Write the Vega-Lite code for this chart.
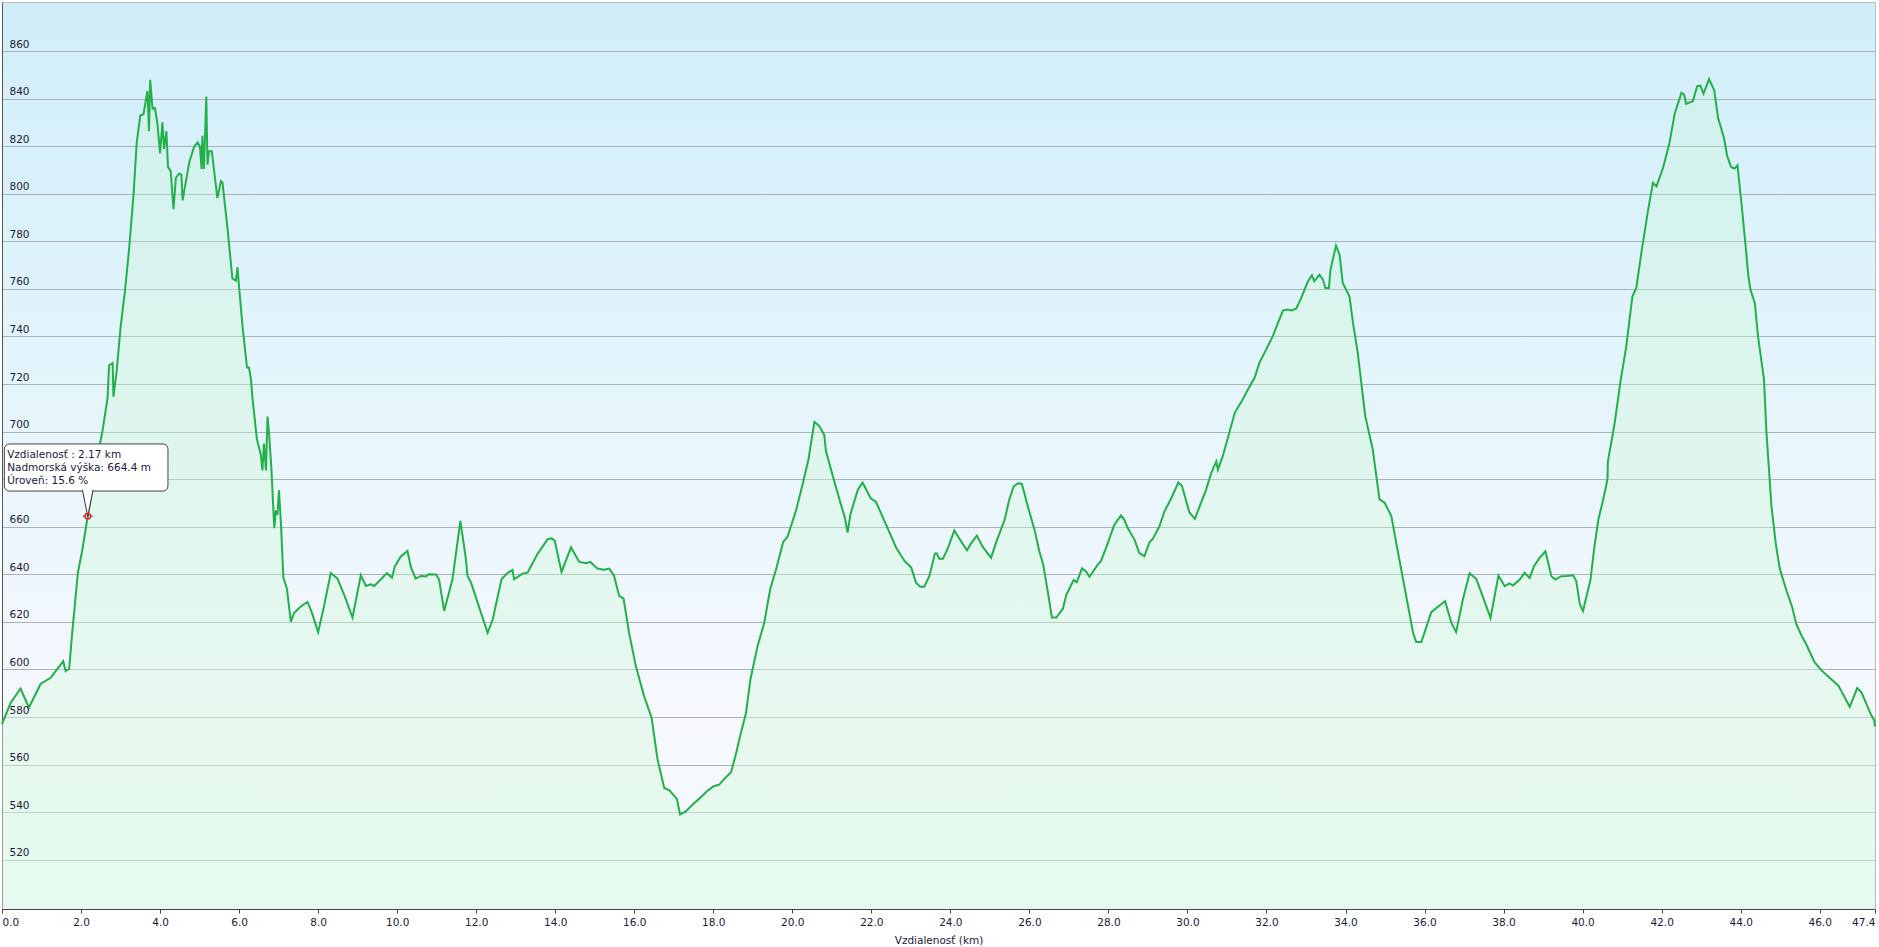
{
  "$schema": "https://vega.github.io/schema/vega-lite/v6.json",
  "width": 1873,
  "height": 907,
  "autosize": {"type": "none"},
  "padding": {"left": 2, "top": 2, "right": 4, "bottom": 38},
  "background": "#ffffff",
  "view": {
    "stroke": "#bbbbbb",
    "fill": {"gradient": "linear", "x1": 0, "y1": 0, "x2": 0, "y2": 1,
      "stops": [
        {"offset": 0, "color": "#d0eefa"},
        {"offset": 0.45, "color": "#e6f5fc"},
        {"offset": 0.78, "color": "#f6f8fe"},
        {"offset": 1, "color": "#f4f9fd"}
      ]}
  },
  "config": {"font": "DejaVu Sans"},
  "data": {"values": [
    {"km": 0.0, "elev": 577}, {"km": 0.22, "elev": 586}, {"km": 0.47, "elev": 592}, {"km": 0.68, "elev": 584},
    {"km": 0.98, "elev": 594}, {"km": 1.23, "elev": 596.5}, {"km": 1.55, "elev": 603.5}, {"km": 1.61, "elev": 599.3},
    {"km": 1.70, "elev": 600.3}, {"km": 1.78, "elev": 616}, {"km": 1.92, "elev": 640.6}, {"km": 2.03, "elev": 650},
    {"km": 2.17, "elev": 664.4, "sel": true}, {"km": 2.29, "elev": 676}, {"km": 2.42, "elev": 690}, {"km": 2.54, "elev": 700},
    {"km": 2.67, "elev": 713.8}, {"km": 2.71, "elev": 727.8}, {"km": 2.80, "elev": 728.8}, {"km": 2.82, "elev": 714.7},
    {"km": 2.90, "elev": 725}, {"km": 3.00, "elev": 743.8}, {"km": 3.11, "elev": 758.8}, {"km": 3.22, "elev": 777.5},
    {"km": 3.33, "elev": 800}, {"km": 3.41, "elev": 821.6}, {"km": 3.50, "elev": 832.9}, {"km": 3.58, "elev": 833.4},
    {"km": 3.68, "elev": 843.2}, {"km": 3.72, "elev": 826.3}, {"km": 3.75, "elev": 847.9}, {"km": 3.81, "elev": 835.7},
    {"km": 3.87, "elev": 836}, {"km": 3.93, "elev": 830}, {"km": 4.00, "elev": 817}, {"km": 4.06, "elev": 830},
    {"km": 4.10, "elev": 818.8}, {"km": 4.16, "elev": 826.3}, {"km": 4.20, "elev": 811.3}, {"km": 4.27, "elev": 809.4},
    {"km": 4.34, "elev": 793.5}, {"km": 4.40, "elev": 806.6}, {"km": 4.48, "elev": 808.5}, {"km": 4.54, "elev": 808},
    {"km": 4.57, "elev": 797.2}, {"km": 4.63, "elev": 802.9}, {"km": 4.74, "elev": 813.2}, {"km": 4.86, "elev": 819.7},
    {"km": 4.95, "elev": 821.6}, {"km": 5.01, "elev": 819.7}, {"km": 5.05, "elev": 810.4}, {"km": 5.07, "elev": 824.4},
    {"km": 5.11, "elev": 810.4}, {"km": 5.17, "elev": 840.9}, {"km": 5.20, "elev": 812.2}, {"km": 5.24, "elev": 817.9},
    {"km": 5.31, "elev": 817.9}, {"km": 5.45, "elev": 798.2}, {"km": 5.54, "elev": 805.3}, {"km": 5.58, "elev": 804.7},
    {"km": 5.71, "elev": 785}, {"km": 5.83, "elev": 764.4}, {"km": 5.92, "elev": 763.5}, {"km": 5.96, "elev": 769.1},
    {"km": 6.00, "elev": 760.7}, {"km": 6.09, "elev": 743.8}, {"km": 6.20, "elev": 726.9}, {"km": 6.25, "elev": 726.9},
    {"km": 6.30, "elev": 722.2}, {"km": 6.34, "elev": 713.8}, {"km": 6.45, "elev": 696.9}, {"km": 6.55, "elev": 690.3},
    {"km": 6.59, "elev": 683.7}, {"km": 6.63, "elev": 695}, {"km": 6.68, "elev": 683.7}, {"km": 6.72, "elev": 706.3},
    {"km": 6.76, "elev": 698.8}, {"km": 6.82, "elev": 683.7}, {"km": 6.89, "elev": 659.4}, {"km": 6.93, "elev": 666.9},
    {"km": 6.97, "elev": 665}, {"km": 7.01, "elev": 675.3}, {"km": 7.06, "elev": 661.2}, {"km": 7.12, "elev": 638.7},
    {"km": 7.21, "elev": 634}, {"km": 7.31, "elev": 620}, {"km": 7.39, "elev": 623.7}, {"km": 7.56, "elev": 626.5},
    {"km": 7.73, "elev": 628.4}, {"km": 7.84, "elev": 624}, {"km": 8.00, "elev": 615.7}, {"km": 8.15, "elev": 626.7},
    {"km": 8.32, "elev": 640.5}, {"km": 8.49, "elev": 638.2}, {"km": 8.67, "elev": 630.9}, {"km": 8.87, "elev": 621.8},
    {"km": 9.08, "elev": 639.6}, {"km": 9.21, "elev": 635.1}, {"km": 9.33, "elev": 635.8}, {"km": 9.42, "elev": 635.1},
    {"km": 9.59, "elev": 637.9}, {"km": 9.74, "elev": 640.5}, {"km": 9.87, "elev": 638.6}, {"km": 9.94, "elev": 643.3},
    {"km": 10.09, "elev": 647.4}, {"km": 10.26, "elev": 649.9}, {"km": 10.35, "elev": 642.9}, {"km": 10.47, "elev": 638.2},
    {"km": 10.60, "elev": 639.3}, {"km": 10.73, "elev": 639.1}, {"km": 10.80, "elev": 640}, {"km": 10.98, "elev": 639.9},
    {"km": 11.06, "elev": 637.9}, {"km": 11.19, "elev": 624.6}, {"km": 11.40, "elev": 637.9}, {"km": 11.60, "elev": 662.5},
    {"km": 11.74, "elev": 646.4}, {"km": 11.78, "elev": 639.3}, {"km": 11.87, "elev": 636.5}, {"km": 12.12, "elev": 623.9},
    {"km": 12.29, "elev": 615.4}, {"km": 12.42, "elev": 621.1}, {"km": 12.64, "elev": 637.9}, {"km": 12.79, "elev": 640.5},
    {"km": 12.92, "elev": 641.9}, {"km": 12.96, "elev": 637.9}, {"km": 13.17, "elev": 640.3}, {"km": 13.30, "elev": 640.7},
    {"km": 13.55, "elev": 648.5}, {"km": 13.81, "elev": 654.8}, {"km": 13.91, "elev": 655.1}, {"km": 13.99, "elev": 654.1},
    {"km": 14.16, "elev": 641}, {"km": 14.40, "elev": 651.3}, {"km": 14.61, "elev": 645.2}, {"km": 14.78, "elev": 644.7},
    {"km": 14.89, "elev": 645.2}, {"km": 15.07, "elev": 642.4}, {"km": 15.23, "elev": 641.9}, {"km": 15.37, "elev": 642.4},
    {"km": 15.49, "elev": 639.3}, {"km": 15.62, "elev": 630.9}, {"km": 15.73, "elev": 629.8}, {"km": 15.87, "elev": 615.4},
    {"km": 16.04, "elev": 601.4}, {"km": 16.25, "elev": 588.8}, {"km": 16.44, "elev": 579.7}, {"km": 16.59, "elev": 562.1},
    {"km": 16.76, "elev": 550.2}, {"km": 16.89, "elev": 549.2}, {"km": 17.08, "elev": 545.6}, {"km": 17.16, "elev": 539},
    {"km": 17.31, "elev": 540.4}, {"km": 17.48, "elev": 543.2}, {"km": 17.69, "elev": 546.4}, {"km": 17.84, "elev": 548.8},
    {"km": 18.01, "elev": 550.9}, {"km": 18.15, "elev": 551.6}, {"km": 18.28, "elev": 554}, {"km": 18.45, "elev": 556.8},
    {"km": 18.57, "elev": 564.2}, {"km": 18.68, "elev": 572}, {"km": 18.83, "elev": 581.8}, {"km": 18.94, "elev": 595.8},
    {"km": 19.12, "elev": 609.8}, {"km": 19.29, "elev": 619.6}, {"km": 19.44, "elev": 633.7}, {"km": 19.59, "elev": 642.1},
    {"km": 19.77, "elev": 653.6}, {"km": 19.88, "elev": 655.8}, {"km": 20.09, "elev": 666.6}, {"km": 20.26, "elev": 677.8},
    {"km": 20.41, "elev": 688.4}, {"km": 20.56, "elev": 704.1}, {"km": 20.68, "elev": 702.4}, {"km": 20.81, "elev": 698.5},
    {"km": 20.85, "elev": 691.9}, {"km": 21.06, "elev": 679.2}, {"km": 21.23, "elev": 669.4}, {"km": 21.33, "elev": 663.8},
    {"km": 21.40, "elev": 657.5}, {"km": 21.47, "elev": 665.2}, {"km": 21.66, "elev": 675.7}, {"km": 21.78, "elev": 678.5},
    {"km": 21.99, "elev": 671.8}, {"km": 22.12, "elev": 670.4}, {"km": 22.37, "elev": 661}, {"km": 22.63, "elev": 651.2},
    {"km": 22.84, "elev": 645.6}, {"km": 23.01, "elev": 642.8}, {"km": 23.13, "elev": 636.5}, {"km": 23.24, "elev": 634.8},
    {"km": 23.34, "elev": 634.8}, {"km": 23.47, "elev": 639.3}, {"km": 23.61, "elev": 648.7}, {"km": 23.66, "elev": 648.7},
    {"km": 23.72, "elev": 646.5}, {"km": 23.81, "elev": 646.5}, {"km": 23.93, "elev": 650.7}, {"km": 24.10, "elev": 658.4},
    {"km": 24.27, "elev": 653.9}, {"km": 24.42, "elev": 650.1}, {"km": 24.52, "elev": 652.9}, {"km": 24.67, "elev": 656.3},
    {"km": 24.82, "elev": 651.5}, {"km": 25.03, "elev": 646.9}, {"km": 25.16, "elev": 653.5}, {"km": 25.37, "elev": 662.7},
    {"km": 25.49, "elev": 671.3}, {"km": 25.60, "elev": 676.9}, {"km": 25.71, "elev": 678.3}, {"km": 25.81, "elev": 678},
    {"km": 25.96, "elev": 668.6}, {"km": 26.14, "elev": 658.1}, {"km": 26.25, "elev": 649.7}, {"km": 26.35, "elev": 644.1},
    {"km": 26.47, "elev": 632.3}, {"km": 26.57, "elev": 621.8}, {"km": 26.68, "elev": 621.8}, {"km": 26.85, "elev": 625.6},
    {"km": 26.93, "elev": 631.2}, {"km": 27.12, "elev": 637.6}, {"km": 27.20, "elev": 636.7}, {"km": 27.33, "elev": 642.5},
    {"km": 27.43, "elev": 641.3}, {"km": 27.52, "elev": 639}, {"km": 27.73, "elev": 644.1}, {"km": 27.81, "elev": 645.5},
    {"km": 27.94, "elev": 651.1}, {"km": 28.15, "elev": 660.9}, {"km": 28.32, "elev": 664.8}, {"km": 28.40, "elev": 663},
    {"km": 28.49, "elev": 659.5}, {"km": 28.66, "elev": 654.6}, {"km": 28.78, "elev": 649}, {"km": 28.91, "elev": 647.6},
    {"km": 29.04, "elev": 653.5}, {"km": 29.12, "elev": 654.9}, {"km": 29.29, "elev": 660.2}, {"km": 29.42, "elev": 666.5},
    {"km": 29.59, "elev": 672}, {"km": 29.77, "elev": 678.6}, {"km": 29.86, "elev": 677.2}, {"km": 30.05, "elev": 666},
    {"km": 30.19, "elev": 663.3}, {"km": 30.26, "elev": 666.5}, {"km": 30.47, "elev": 675.5}, {"km": 30.60, "elev": 682.5},
    {"km": 30.68, "elev": 685.6}, {"km": 30.73, "elev": 687.4}, {"km": 30.77, "elev": 684}, {"km": 30.90, "elev": 690},
    {"km": 31.05, "elev": 699}, {"km": 31.20, "elev": 708}, {"km": 31.36, "elev": 712.4}, {"km": 31.53, "elev": 717.7},
    {"km": 31.70, "elev": 722.6}, {"km": 31.82, "elev": 728.9}, {"km": 31.95, "elev": 733.1}, {"km": 32.16, "elev": 740.1},
    {"km": 32.29, "elev": 745.7}, {"km": 32.42, "elev": 751}, {"km": 32.54, "elev": 751.3}, {"km": 32.63, "elev": 750.9},
    {"km": 32.75, "elev": 751.7}, {"km": 32.88, "elev": 756.2}, {"km": 33.05, "elev": 763.2}, {"km": 33.15, "elev": 765.7},
    {"km": 33.21, "elev": 763.2}, {"km": 33.34, "elev": 766}, {"km": 33.43, "elev": 763.9}, {"km": 33.49, "elev": 760.4},
    {"km": 33.58, "elev": 760.4}, {"km": 33.62, "elev": 768.1}, {"km": 33.76, "elev": 778.2}, {"km": 33.85, "elev": 774.4},
    {"km": 33.93, "elev": 762.5}, {"km": 34.10, "elev": 756.9}, {"km": 34.19, "elev": 745.7}, {"km": 34.31, "elev": 733.1},
    {"km": 34.50, "elev": 706.5}, {"km": 34.69, "elev": 692.5}, {"km": 34.86, "elev": 671.5}, {"km": 34.99, "elev": 670.1},
    {"km": 35.16, "elev": 664.5}, {"km": 35.30, "elev": 651.8}, {"km": 35.49, "elev": 635}, {"km": 35.71, "elev": 615.4},
    {"km": 35.79, "elev": 611.5}, {"km": 35.92, "elev": 611.5}, {"km": 36.17, "elev": 624.1}, {"km": 36.38, "elev": 626.9},
    {"km": 36.52, "elev": 628.7}, {"km": 36.68, "elev": 619.6}, {"km": 36.80, "elev": 615.7}, {"km": 36.97, "elev": 629.4},
    {"km": 37.14, "elev": 640.4}, {"km": 37.31, "elev": 638.1}, {"km": 37.44, "elev": 632.2}, {"km": 37.67, "elev": 621.7},
    {"km": 37.87, "elev": 639.5}, {"km": 38.03, "elev": 635}, {"km": 38.15, "elev": 636.2}, {"km": 38.24, "elev": 635.3},
    {"km": 38.41, "elev": 637.8}, {"km": 38.53, "elev": 640.6}, {"km": 38.66, "elev": 638.5}, {"km": 38.77, "elev": 643.4},
    {"km": 38.91, "elev": 646.9}, {"km": 39.06, "elev": 649.7}, {"km": 39.21, "elev": 639.2}, {"km": 39.31, "elev": 637.8},
    {"km": 39.46, "elev": 639.2}, {"km": 39.59, "elev": 639.3}, {"km": 39.76, "elev": 639.6}, {"km": 39.84, "elev": 637.2},
    {"km": 39.93, "elev": 627.4}, {"km": 40.01, "elev": 624.6}, {"km": 40.20, "elev": 637.7}, {"km": 40.30, "elev": 651.8},
    {"km": 40.40, "elev": 663.1}, {"km": 40.51, "elev": 670.6}, {"km": 40.63, "elev": 679.9}, {"km": 40.64, "elev": 687.4},
    {"km": 40.81, "elev": 703.4}, {"km": 40.96, "elev": 721.2}, {"km": 41.10, "elev": 735.2}, {"km": 41.26, "elev": 756.8},
    {"km": 41.36, "elev": 760.5}, {"km": 41.49, "elev": 775.5}, {"km": 41.65, "elev": 792.4}, {"km": 41.78, "elev": 804.6},
    {"km": 41.87, "elev": 803.1}, {"km": 42.04, "elev": 811.1}, {"km": 42.20, "elev": 821.4}, {"km": 42.33, "elev": 833.6},
    {"km": 42.50, "elev": 842.4}, {"km": 42.57, "elev": 841.7}, {"km": 42.62, "elev": 837.8}, {"km": 42.79, "elev": 838.9},
    {"km": 42.90, "elev": 845.2}, {"km": 42.98, "elev": 845.4}, {"km": 43.06, "elev": 842.1}, {"km": 43.20, "elev": 848.2},
    {"km": 43.33, "elev": 843.6}, {"km": 43.43, "elev": 831.8}, {"km": 43.58, "elev": 823.3}, {"km": 43.66, "elev": 815.8},
    {"km": 43.76, "elev": 811.1}, {"km": 43.85, "elev": 810.6}, {"km": 43.92, "elev": 811.9}, {"km": 44.02, "elev": 796.1},
    {"km": 44.14, "elev": 775.5}, {"km": 44.19, "elev": 766.1}, {"km": 44.25, "elev": 759.6}, {"km": 44.36, "elev": 754},
    {"km": 44.44, "elev": 739.9}, {"km": 44.59, "elev": 722.1}, {"km": 44.65, "elev": 700.5}, {"km": 44.78, "elev": 668.7},
    {"km": 44.89, "elev": 652.7}, {"km": 44.99, "elev": 642.4}, {"km": 45.16, "elev": 633.1}, {"km": 45.30, "elev": 626.5},
    {"km": 45.41, "elev": 619}, {"km": 45.54, "elev": 614.3}, {"km": 45.66, "elev": 610.6}, {"km": 45.87, "elev": 603.1},
    {"km": 46.04, "elev": 599.7}, {"km": 46.25, "elev": 596.5}, {"km": 46.47, "elev": 593.3}, {"km": 46.76, "elev": 584.3},
    {"km": 46.95, "elev": 592.2}, {"km": 47.06, "elev": 590.3}, {"km": 47.31, "elev": 580.6}, {"km": 47.38, "elev": 578.7},
    {"km": 47.40, "elev": 576}
  ]},
  "encoding": {
    "x": {
      "field": "km", "type": "quantitative",
      "scale": {"domain": [0, 47.4], "nice": false, "zero": false},
      "axis": {
        "values": [0, 2, 4, 6, 8, 10, 12, 14, 16, 18, 20, 22, 24, 26, 28, 30, 32, 34, 36, 38, 40, 42, 44, 46, 47.4],
        "format": ".1f", "labelFlush": true, "grid": false,
        "domainColor": "#444444", "tickColor": "#444444", "tickSize": 4,
        "labelFont": "DejaVu Sans", "labelFontSize": 10.5, "labelColor": "#1a1a3a", "labelPadding": 4,
        "title": "Vzdialenosť (km)", "titleFont": "DejaVu Sans", "titleFontSize": 10.5,
        "titleFontWeight": "normal", "titleColor": "#1a1a3a", "titlePadding": 8
      }
    },
    "y": {
      "field": "elev", "type": "quantitative",
      "scale": {"domain": [499.3, 880.6], "nice": false, "zero": false},
      "axis": {
        "orient": "left",
        "values": [520, 540, 560, 580, 600, 620, 640, 660, 680, 700, 720, 740, 760, 780, 800, 820, 840, 860],
        "grid": true, "gridColor": "#a9b3b9", "gridWidth": 1,
        "ticks": false, "labels": false, "domain": true, "domainColor": "#555555",
        "title": null, "zindex": 0
      }
    }
  },
  "layer": [
    {
      "mark": {"type": "area", "color": {"gradient": "linear", "x1": 0, "y1": 0, "x2": 0, "y2": 1,
        "stops": [
          {"offset": 0, "color": "rgba(200,245,205,0.25)"},
          {"offset": 1, "color": "rgba(215,250,225,0.5)"}
        ]}},
      "encoding": {"y2": {"datum": 499.3}}
    },
    {
      "mark": {"type": "line", "color": "#22b04a", "strokeWidth": 2},
      "encoding": {
        "y": {
          "field": "elev", "type": "quantitative",
          "scale": {"domain": [499.3, 880.6], "nice": false, "zero": false},
          "axis": {
            "orient": "left",
            "values": [520, 540, 560, 580, 600, 620, 640, 660, 680, 700, 720, 740, 760, 780, 800, 820, 840, 860],
            "labelExpr": "datum.value == 680 ? '' : datum.label",
            "grid": false, "ticks": false, "domain": false,
            "labelAlign": "left", "labelBaseline": "alphabetic", "labelPadding": -7, "labelOffset": -4,
            "labelFont": "DejaVu Sans", "labelFontSize": 10.5, "labelColor": "#1a1a3a",
            "title": null, "zindex": 1
          }
        }
      }
    },
    {
      "transform": [{"filter": "datum.sel === true"}],
      "mark": {"type": "rect", "fill": "#ffffff", "stroke": "#444444", "strokeWidth": 1, "cornerRadius": 5},
      "encoding": {
        "x": {"datum": 0.06, "type": "quantitative"}, "x2": {"datum": 4.2},
        "y": {"datum": 694.8, "type": "quantitative", "axis": null}, "y2": {"datum": 675.0}
      }
    },
    {
      "transform": [{"filter": "datum.sel === true"}],
      "mark": {"type": "point", "shape": "M-0.4,-1L0,1L0.4,-1", "size": 700, "filled": true, "fill": "#ffffff", "stroke": "#333333", "strokeWidth": 1, "opacity": 1},
      "encoding": {
        "x": {"field": "km", "type": "quantitative"},
        "y": {"datum": 669.9, "type": "quantitative", "axis": null}
      }
    },
    {
      "transform": [{"filter": "datum.sel === true"}],
      "mark": {"type": "text", "align": "left", "baseline": "alphabetic", "font": "DejaVu Sans", "fontSize": 10.5, "lineHeight": 13, "color": "#201840",
        "text": ["Vzdialenosť : 2.17 km", "Nadmorská výška: 664.4 m", "Úroveň: 15.6 %"]},
      "encoding": {
        "x": {"datum": 0.13, "type": "quantitative"},
        "y": {"datum": 689.05, "type": "quantitative", "axis": null}
      }
    },
    {
      "transform": [{"filter": "datum.sel === true"}],
      "mark": {"type": "point", "shape": "M-1,0A1,1 0 1,0 1,0A1,1 0 1,0 -1,0M-1.8,0H-1M1,0H1.8", "size": 30, "filled": false, "stroke": "#e8282e", "strokeWidth": 1.5, "opacity": 1},
      "encoding": {
        "x": {"field": "km", "type": "quantitative"},
        "y": {"field": "elev", "type": "quantitative", "axis": null}
      }
    }
  ],
  "resolve": {"axis": {"y": "independent"}}
}
